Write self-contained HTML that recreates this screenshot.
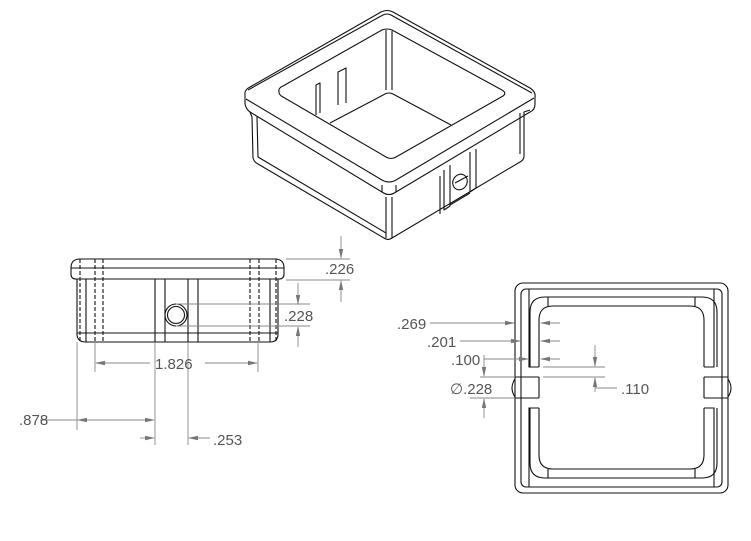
<!DOCTYPE html>
<html><head><meta charset="utf-8"><style>
html,body{margin:0;padding:0;background:#fff}
svg{display:block}
text{font-family:"Liberation Sans",sans-serif;font-size:15px;fill:#555}
</style></head><body>
<svg width="751" height="541" viewBox="0 0 751 541" xmlns="http://www.w3.org/2000/svg">
<defs>
<marker id="a" markerWidth="10" markerHeight="6" refX="9" refY="3" orient="auto" markerUnits="userSpaceOnUse"><path d="M0,0.8 L10,3 L0,5.2z" fill="#777"/></marker>
</defs>
<!-- ISOMETRIC -->
<g fill="none" stroke="#111" stroke-width="1.1" stroke-linejoin="round">
<path d="M245,95 Q244,90 250,87 L381,12 Q387,9 393,12 L530,88 Q536,92 535,97 L535,104 Q535,110 530,112 L396,192 Q389,197 382,192 L250,112 Q246,109 245,104 Z"/>
<path d="M248,90 L383,15 Q387,13 391,15 L532,93"/>
<path d="M246,99 L382,180 Q389,184 396,180 L534,98"/>
<path d="M382,192 L382,185 M396,192 L396,185"/>
<path d="M250,112 L252,117 L253,158 Q254,162 258,164 L384,238 Q388,241 392,238 L520,162 Q524,160 524,156 L524,112 L530,110"/>
<path d="M257,117 L258,157 L386,233"/>
<path d="M520,113 L520,154"/>
<path d="M386,197 L386,238 M392,197 L392,238"/>
<!-- opening -->
<path d="M279,92 Q278,88 283,86 L382,30 Q387,28 392,30 L502,90 Q507,93 503,96 L396,157 Q391,160 386,157 L283,97 Q279,95 279,92 Z"/>
<path d="M386,30 L386,90 M392,31 L392,90"/>
<path d="M330,123 L385,94 Q389,92 393,94 L451,125"/>
<path d="M316,115 L316,85 L320,83 L320,113 M338,105 L338,72 L346,68 L346,103"/>
<!-- clip slot -->
<path d="M444,170 L444,210 L450,206 L450,165 M470,152 L470,192 L476,188 L476,149 M450,205 L470,193"/>
<path d="M440,176 L440,214"/>
<ellipse cx="460" cy="182" rx="7" ry="8" transform="rotate(30 460 182)"/>
<path d="M455,183 L468,176"/>
</g>
<!-- FRONT VIEW -->
<g fill="none" stroke="#111" stroke-width="1.1">
<path d="M71,268 Q71,259 80,259 L275,259 Q284,259 284,268 L284,274 Q284,279 279,279 L76,279 Q71,279 71,274 Z"/>
<line x1="71" y1="268" x2="284" y2="268"/>
<path d="M77,279 L77,334 Q77,342 86,342 L270,342 Q278,342 278,334 L278,279"/>
<line x1="77" y1="333" x2="278" y2="333"/>
<line x1="86" y1="279" x2="86" y2="342"/><line x1="270" y1="279" x2="270" y2="342"/>
<path d="M155,279 V342 M165,279 V342 M188,279 V342 M198,279 V342"/>
<circle cx="176" cy="315" r="11"/><circle cx="176" cy="315" r="8.5"/>
<g stroke-dasharray="4,2"><path d="M80,259 V342 M95,259 V342 M103,259 V342 M250,259 V342 M259,259 V342 M276,259 V342"/></g>
</g>
<g fill="none" stroke="#888" stroke-width="0.9">
<path d="M286,259 H350 M286,280 H350"/>
<line x1="341" y1="236" x2="341" y2="258" marker-end="url(#a)"/>
<line x1="341" y1="302" x2="341" y2="281" marker-end="url(#a)"/>
<path d="M176,304 H310 M176,326 H310"/>
<line x1="298" y1="283" x2="298" y2="304" marker-end="url(#a)"/>
<line x1="298" y1="347" x2="298" y2="327" marker-end="url(#a)"/>
<path d="M95,342 V372 M258,342 V372 M77,342 V430 M155,342 V445 M188,342 V445"/>
<line x1="150" y1="363" x2="96" y2="363" marker-end="url(#a)"/>
<line x1="205" y1="363" x2="257" y2="363" marker-end="url(#a)"/>
<line x1="40" y1="420" x2="78" y2="420"/>
<line x1="110" y1="420" x2="78" y2="420" marker-end="url(#a)"/>
<line x1="110" y1="420" x2="154" y2="420" marker-end="url(#a)"/>
<line x1="140" y1="438" x2="154" y2="438" marker-end="url(#a)"/>
<line x1="210" y1="438" x2="189" y2="438" marker-end="url(#a)"/>
</g>
<text x="325" y="274">.226</text>
<text x="284" y="321">.228</text>
<text x="155" y="369">1.826</text>
<text x="19" y="425">.878</text>
<text x="213" y="445">.253</text>
<!-- TOP VIEW -->
<g fill="none" stroke="#111" stroke-width="1.1">
<rect x="515" y="283" width="213" height="210" rx="8"/>
<rect x="521" y="289" width="201" height="198" rx="5"/>
<path d="M529,289 V367 H539 M529,487 V408 H539 M714,289 V367 H704 M714,487 V408 H704"/>
<path d="M515,377 H539 M515,398 H539 M704,377 H728 M704,398 H728 M539,377 V398 M704,377 V398"/>
<path d="M539,367 V320 Q539,306 553,306 L690,306 Q704,306 704,320 V367"/>
<path d="M539,408 V455 Q539,469 553,469 L690,469 Q704,469 704,455 V408"/>
<path d="M530,367 V312 Q530,297 545,297 L702,297 Q717,297 717,312 V367"/>
<path d="M530,408 V463 Q530,478 545,478 L702,478 Q717,478 717,463 V408"/>
<path d="M548,297 V306 M695,297 V306 M548,469 V478 M695,469 V478"/>
<path d="M515,379 Q509,388 515,397 M728,379 Q734,388 728,397"/>
</g>
<g fill="none" stroke="#888" stroke-width="0.9">
<line x1="430" y1="323" x2="514" y2="323" marker-end="url(#a)"/>
<line x1="460" y1="341" x2="520" y2="341" marker-end="url(#a)"/>
<line x1="484" y1="359" x2="528" y2="359" marker-end="url(#a)"/>
<line x1="560" y1="323" x2="541" y2="323" marker-end="url(#a)"/>
<line x1="560" y1="341" x2="541" y2="341" marker-end="url(#a)"/>
<line x1="560" y1="359" x2="541" y2="359" marker-end="url(#a)"/>
<path d="M543,367 H605 M543,377 H605"/>
<line x1="595" y1="345" x2="595" y2="366" marker-end="url(#a)"/>
<line x1="595" y1="392" x2="595" y2="378" marker-end="url(#a)"/>
<path d="M595,388 H617"/>
<path d="M480,377 H514 M470,398 H514 M484,355 V360"/>
<line x1="484" y1="360" x2="484" y2="376" marker-end="url(#a)"/>
<line x1="484" y1="418" x2="484" y2="399" marker-end="url(#a)"/>
</g>
<text x="397" y="329">.269</text>
<text x="427" y="347">.201</text>
<text x="451" y="365">.100</text>
<text x="450" y="394">∅.228</text>
<text x="621" y="394">.110</text>
</svg>
</body></html>
